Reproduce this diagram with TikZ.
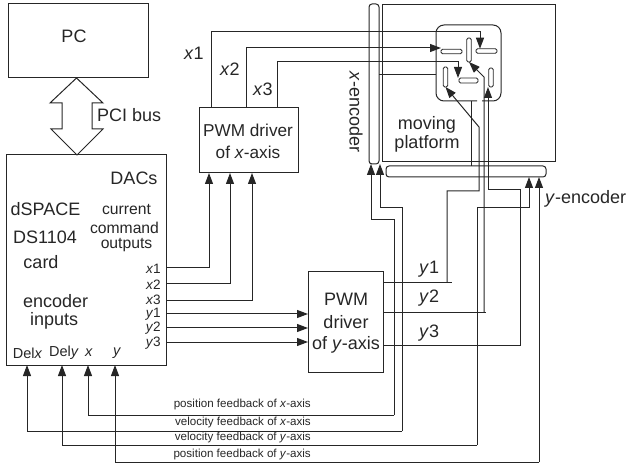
\documentclass[tikz,border=0pt]{standalone}
\usepackage{fontspec}
\setmainfont{Liberation Sans}
\usetikzlibrary{arrows.meta}
\definecolor{ink}{HTML}{262626}
\newcommand{\fsA}{\fontsize{18}{20}\selectfont}
\newcommand{\fsP}{\fontsize{17.2}{20}\selectfont}
\newcommand{\fsB}{\fontsize{14.5}{15}\selectfont}
\newcommand{\fsE}{\fontsize{13.6}{15}\selectfont}
\newcommand{\fsD}{\fontsize{15.7}{18}\selectfont}
\newcommand{\fsC}{\fontsize{11.6}{13}\selectfont}
\tikzset{
  box/.style={draw=ink,line width=1pt,rectangle,inner sep=0pt,outer sep=0pt,minimum width=#1},
  barbox/.style={draw=ink,line width=1pt,rectangle,rounded corners=3pt,inner sep=0pt,outer sep=0pt,minimum width=#1},
  padbox/.style={draw=ink,line width=.8pt,rectangle,rounded corners=1.5pt,inner sep=0pt,outer sep=0pt,minimum width=#1},
  wire/.style={draw=ink,line width=1pt},
  arr/.style={wire,-{Triangle[length=11pt,width=8pt]}},
  lab/.style={text=ink,inner sep=0pt,font=\fsA},
  pwmlab/.style={text=ink,inner sep=0pt,font=\fsP},
  mid/.style={text=ink,inner sep=0pt,font=\fsB},
  chan/.style={text=ink,inner sep=0pt,font=\fsE,anchor=east},
  cmd/.style={text=ink,inner sep=0pt,font=\fsD},
  tiny/.style={text=ink,inner sep=0pt,font=\fsC,anchor=east},
}
\begin{document}
\begin{tikzpicture}[x=1pt,y=-1pt]
\useasboundingbox (0,0) rectangle (627,465);
% boxes
\node[box=140pt,minimum height=74pt] (pc) at (78,41) {};
\node[box=160pt,minimum height=210pt] (dsp) at (86,260) {};
\node[box=99pt,minimum height=65pt] (pwmx) at (248.5,140.5) {};
\node[box=75pt,minimum height=100pt] (pwmy) at (345.5,322) {};
\node[box=173pt,minimum height=157pt] (plat) at (468.5,83.5) {};
\node[barbox=10pt,minimum height=160pt] (xenc) at (374,84) {};
\node[barbox=160pt,minimum height=11pt] (yenc) at (466,171.5) {};
\node[minimum width=65pt,minimum height=76pt,inner sep=0pt,outer sep=0pt] (piece) at (468.5,63) {};
\draw[wire,rounded corners=8pt] (piece.south -| 477,0) -- (piece.south west) -- (piece.north west) -- (piece.north east) -- (piece.south east) -- (piece.south -| 482,0);
% pads
\node[padbox=21pt,minimum height=4.5pt] (pa) at (451.5,51.5) {};
\node[padbox=21pt,minimum height=4.5pt] (pb) at (486.5,51) {};
\node[padbox=4.5pt,minimum height=24pt] (pc1) at (469,50) {};
\node[padbox=4.5pt,minimum height=19pt] (pd) at (491,77.5) {};
\node[padbox=4.5pt,minimum height=20pt] (pe) at (445.5,77) {};
\node[padbox=19pt,minimum height=5pt] (pf) at (468.5,80.5) {};
% bus arrow
\coordinate (bust) at (pc.south -| 76.5,0);
\coordinate (busb) at (dsp.north -| 77,0);
\draw[wire] (bust) -- (50,103) -- (62,103) -- (62,129) -- (51,129) -- (busb) -- (103,129) -- (92,129) -- (92,103) -- (103,103) -- cycle;
% DAC to drivers
\draw[arr] (dsp.east |- 0,268) -| (pwmx.south -| 209,0);
\draw[arr] (dsp.east |- 0,284) -| (pwmx.south -| 230,0);
\draw[arr] (dsp.east |- 0,301) -| (pwmx.south -| 252,0);
\draw[arr] (dsp.east |- 0,314) -- (pwmy.west |- 0,314);
\draw[arr] (dsp.east |- 0,328) -- (pwmy.west |- 0,328);
\draw[arr] (dsp.east |- 0,342) -- (pwmy.west |- 0,342);
% x driver to coils
\draw[arr] (pwmx.north -| 211,0) |- (480,32) -- (pb.north -| 480,0);
\draw[arr] (pwmx.north -| 246,0) |- (pa.west |- 0,48);
\draw[arr] (pwmx.north -| 277,0) |- (458,62) -- (pf.north -| 458,0);
% y driver to coils
\draw[wire] (pwmy.east |- 0,283) -- (452,283);
\draw[arr] (447,283) -- (447,191) -- (479,191) -- (479,127) -- (pe.south);
\draw[wire] (pwmy.east |- 0,313) -- (486,313);
\draw[arr] (484,313) -- (484,77) -- (pc1.south);
\draw[arr] (pwmy.east |- 0,345) -- (520,345) -- (520,190) -- (488,190) -- (pd.south -| 488,0);
% encoder links
\draw[wire] (xenc.east |- 0,75) -- (piece.west |- 0,75);
\draw[wire] (piece.south -| 471,0) -- (yenc.north -| 471,0);
% feedback
\draw[arr] (394,415) -- (394,220) -- (371,220) -- (xenc.south -| 371,0);
\draw[arr] (402,431) -- (402,208) -- (380,208) -- (xenc.south -| 380,0);
\draw[arr] (477,445) -- (477,208) -- (529,208) -- (yenc.south -| 529,0);
\draw[arr] (539,462) -- (yenc.south -| 539,0);
\draw[arr] (394,415) -- (88,415) -- (dsp.south -| 88,0);
\draw[arr] (402,431) -- (27,431) -- (dsp.south -| 27,0);
\draw[arr] (477,445) -- (62,445) -- (dsp.south -| 62,0);
\draw[arr] (539,462) -- (115,462) -- (dsp.south -| 115,0);
% labels
\node[lab] (tpc) at (74,36) {PC};
\node[lab,anchor=west] (tbus) at (97,115) {PCI bus};
\node[lab] (tdac) at (134,178) {DACs};
\node[lab] (tds1) at (45.5,209) {dSPACE};
\node[lab] (tds2) at (45,237) {DS1104};
\node[lab] (tds3) at (41,262) {card};
\node[lab,anchor=west] (tenc1) at (23,301) {encoder};
\node[lab,anchor=west] (tenc2) at (30,321) {inputs};
\node[cmd] (tcur1) at (126.5,210) {current};
\node[cmd] (tcur2) at (124.5,228) {command};
\node[cmd] (tcur3) at (126.5,245) {outputs};
\node[chan] (l1) at (161,269) {\textit{x}1};
\node[chan] (l2) at (161,285) {\textit{x}2};
\node[chan] (l3) at (161,299.5) {\textit{x}3};
\node[chan] (l4) at (161,314.5) {\textit{y}1};
\node[chan] (l5) at (161,328.5) {\textit{y}2};
\node[chan] (l6) at (161,343) {\textit{y}3};
\node[mid] (b1) at (27.5,353) {Del\textit{x}};
\node[mid] (b2) at (64,353) {Del\textit{y}};
\node[mid] (b3) at (89,353) {\textit{x}};
\node[mid] (b4) at (117,353) {\textit{y}};
\node[lab,anchor=west] (tx1) at (184,53) {\textit{x}1};
\node[lab,anchor=west] (tx2) at (220,69) {\textit{x}2};
\node[lab,anchor=west] (tx3) at (253,89) {\textit{x}3};
\node[pwmlab] (tpx1) at (248,130) {PWM driver};
\node[pwmlab] (tpx2) at (248,152) {of \textit{x}-axis};
\node[lab] (tpy1) at (346,299) {PWM};
\node[lab] (tpy2) at (346,322) {driver};
\node[lab] (tpy3) at (346,345) {of \textit{y}-axis};
\node[lab] (tm1) at (427,125) {moving};
\node[lab] (tm2) at (427,144) {platform};
\node[lab,rotate=-90] (txe) at (356,112) {\textit{x}-encoder};
\node[lab,anchor=west] (tye) at (545,199) {\textit{y}-encoder};
\node[lab,anchor=west] (ty1) at (419,269) {\textit{y}1};
\node[lab,anchor=west] (ty2) at (419,298) {\textit{y}2};
\node[lab,anchor=west] (ty3) at (419,333) {\textit{y}3};
\node[tiny] (f1) at (311,405) {position feedback of \textit{x}-axis};
\node[tiny] (f2) at (311,422) {velocity feedback of \textit{x}-axis};
\node[tiny] (f3) at (311,437) {velocity feedback of \textit{y}-axis};
\node[tiny] (f4) at (311,454) {position feedback of \textit{y}-axis};
\end{tikzpicture}
\end{document}
